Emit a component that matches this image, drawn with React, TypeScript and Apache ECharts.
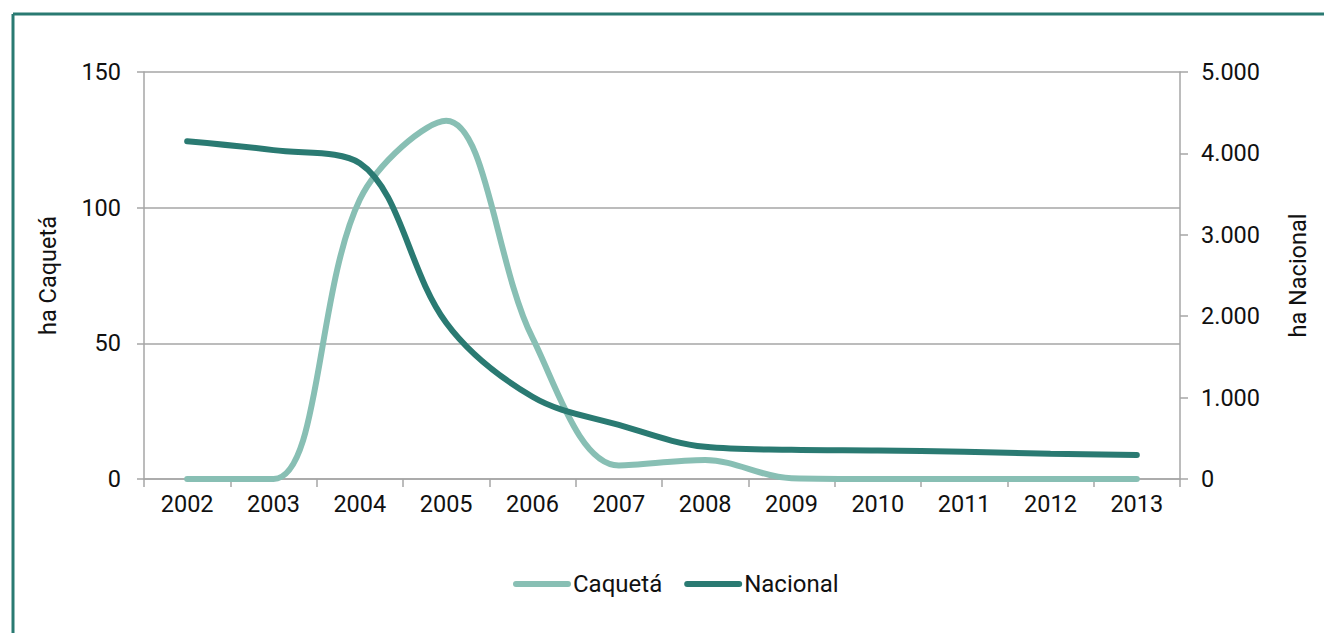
import React, { useEffect, useRef } from "react";
import * as echarts from "echarts";

const years = ["2002", "2003", "2004", "2005", "2006", "2007", "2008", "2009", "2010", "2011", "2012", "2013"];
const caqueta = [0, 0, 103, 132, 52, 5, 7, 0.3, 0, 0, 0, 0];
const nacional = [4150, 4040, 3880, 1920, 1010, 665, 395, 358, 350, 335, 310, 295];
const leftTicks = [0, 50, 100, 150];
const rightTicks = [0, 1000, 2000, 3000, 4000, 5000];

const LIGHT = "#88bfb4";
const DARK = "#2a7a72";
const GRAY = "#a6a6a6";
const FONT = "Roboto";
const FS = 23.5;

export default function App() {
  const ref = useRef<HTMLDivElement>(null);
  useEffect(() => {
    if (!ref.current) return;
    const chart = echarts.init(ref.current, undefined, { renderer: "svg" });
    const pill = "path://M3,0 H55 A3,3 0 0 1 55,6 H3 A3,3 0 0 1 3,0 Z";
    chart.setOption({
      animation: false,
      textStyle: { fontFamily: FONT },
      grid: { left: 144, right: 144, top: 72, bottom: 154, containLabel: false },
      graphic: [
        { type: "line", shape: { x1: 13, y1: 14, x2: 1324, y2: 14 }, style: { stroke: DARK, lineWidth: 3 } },
        { type: "line", shape: { x1: 13, y1: 14, x2: 13, y2: 633 }, style: { stroke: DARK, lineWidth: 3 } },
      ],
      legend: {
        left: 508,
        top: 567,
        itemWidth: 58,
        itemHeight: 6,
        itemGap: 22,
        textStyle: { fontSize: 24, color: "#111", fontFamily: FONT, padding: [0, 0, 0, -3] },
        data: [
          { name: "Caquetá", icon: pill },
          { name: "Nacional", icon: pill },
        ],
      },
      xAxis: {
        type: "category",
        data: years,
        boundaryGap: true,
        axisLine: { lineStyle: { color: GRAY, width: 1.5 } },
        axisTick: { show: true, length: 8, lineStyle: { color: GRAY, width: 1.5 } },
        axisLabel: { fontSize: FS, color: "#111", margin: 13, fontFamily: FONT },
      },
      yAxis: [
        {
          type: "value",
          min: leftTicks[0],
          max: leftTicks[leftTicks.length - 1],
          interval: 50,
          name: "ha Caquetá",
          nameLocation: "middle",
          nameGap: 84,
          nameTextStyle: { fontSize: FS, color: "#111", fontFamily: FONT },
          axisLine: { show: true, lineStyle: { color: GRAY, width: 1.5 } },
          axisTick: { show: true, length: 7, lineStyle: { color: GRAY, width: 1.5 } },
          axisLabel: { fontSize: FS, color: "#111", margin: 23, fontFamily: FONT },
          splitLine: { show: true, lineStyle: { color: GRAY, width: 1.5 } },
        },
        {
          type: "value",
          position: "right",
          min: rightTicks[0],
          max: rightTicks[rightTicks.length - 1],
          interval: 1000,
          name: "ha Nacional",
          nameLocation: "middle",
          nameGap: 106,
          nameRotate: 90,
          nameTextStyle: { fontSize: FS, color: "#111", fontFamily: FONT },
          axisLine: { show: true, lineStyle: { color: GRAY, width: 1.5 } },
          axisTick: { show: true, length: 8, lineStyle: { color: GRAY, width: 1.5 } },
          axisLabel: {
            fontSize: FS,
            color: "#111",
            margin: 21,
            fontFamily: FONT,
            formatter: (v: number) => v.toString().replace(/\B(?=(\d{3})+(?!\d))/g, "."),
          },
          splitLine: { show: false },
        },
      ],
      series: [
        {
          name: "Caquetá",
          type: "line",
          yAxisIndex: 0,
          data: caqueta,
          smooth: 0.35,
          showSymbol: false,
          symbol: "none",
          lineStyle: { color: LIGHT, width: 6, cap: "round" },
          itemStyle: { color: LIGHT },
          z: 2,
        },
        {
          name: "Nacional",
          type: "line",
          yAxisIndex: 1,
          data: nacional,
          smooth: 0.35,
          showSymbol: false,
          symbol: "none",
          lineStyle: { color: DARK, width: 6, cap: "round" },
          itemStyle: { color: DARK },
          z: 3,
        },
      ],
    });
    return () => chart.dispose();
  }, []);
  return <div ref={ref} style={{ position: "fixed", left: 0, top: 0, width: 1324, height: 633, background: "#fff" }} />;
}
